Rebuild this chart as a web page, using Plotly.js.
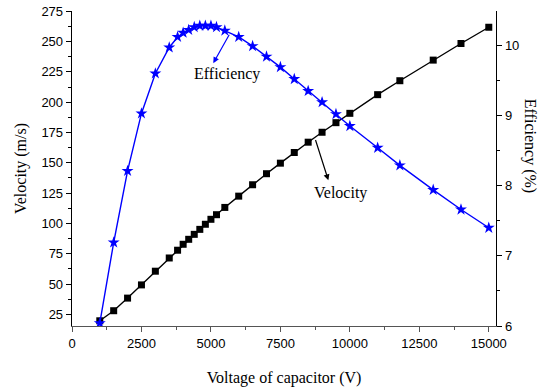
<!DOCTYPE html>
<html>
<head>
<meta charset="utf-8">
<script src="https://cdn.plot.ly/plotly-3.0.1.min.js"></script>
<style>
  html, body { margin: 0; padding: 0; background: #fff; }
  #chart { width: 549px; height: 391px; }
</style>
</head>
<body>
<div id="chart"></div>
<script>
// Capacitor voltage (V)
const voltage = [1000, 1500, 2000, 2500, 3000, 3500, 3800, 4000, 4200, 4400, 4600, 4800, 5000, 5200,
                 5500, 6000, 6500, 7000, 7500, 8000, 8500, 9000, 9500, 10000, 11000, 11800, 13000, 14000, 15000];
// Projectile velocity (m/s)
const velocity = [19.7, 28, 38.4, 49.3, 60.6, 71.5, 77.9, 82.8, 86.9, 91, 95.1, 99.3, 103.4, 107.2,
                  113.2, 122.5, 131.9, 141, 149.7, 158.5, 167, 175.2, 183.1, 190.8, 206.2, 217.7, 234.7, 248.4, 261.8];
// Launch efficiency (%)
const efficiency = [6.04, 7.19, 8.21, 9.03, 9.60, 9.97, 10.12, 10.18, 10.22, 10.26, 10.28, 10.28, 10.28, 10.26,
                    10.21, 10.12, 9.99, 9.84, 9.69, 9.52, 9.35, 9.19, 9.02, 8.85, 8.54, 8.29, 7.94, 7.66, 7.40];

const serif = 'Liberation Serif, Times New Roman, serif';
const sans = 'Liberation Sans, Arial, sans-serif';

const traces = [
  {
    x: voltage, y: velocity, name: 'Velocity', yaxis: 'y',
    mode: 'lines+markers',
    line: { color: '#000000', width: 1.4 },
    marker: { symbol: 'square', size: 7, color: '#000000' }
  },
  {
    x: voltage, y: efficiency, name: 'Efficiency', yaxis: 'y2',
    mode: 'lines+markers',
    line: { color: '#0000ff', width: 1.4 },
    marker: { symbol: 'star', size: 9, color: '#0000ff' }
  }
];

const layout = {
  width: 549, height: 391,
  margin: { l: 72, r: 53, t: 10.5, b: 65, pad: 0 },
  paper_bgcolor: '#ffffff', plot_bgcolor: '#ffffff',
  showlegend: false,
  font: { family: sans, size: 13, color: '#000' },
  xaxis: {
    range: [0, 15260], tick0: 0, dtick: 2500, tickformat: 'd',
    showgrid: false, zeroline: false,
    showline: true, linecolor: '#555555', linewidth: 1.3,
    ticks: 'outside', ticklen: 5, tickwidth: 1, tickcolor: '#555555',
    minor: { dtick: 1250, ticks: 'outside', ticklen: 3, tickcolor: '#555555' },
    tickfont: { family: sans, size: 13, color: '#000' },
    title: { text: 'Voltage of capacitor (V)', font: { family: serif, size: 16, color: '#000' }, standoff: 22 }
  },
  yaxis: {
    range: [15.4, 275.2], tick0: 0, dtick: 25,
    showgrid: false, zeroline: false,
    showline: true, linecolor: '#000000', linewidth: 1.3,
    ticks: 'outside', ticklen: 5, tickwidth: 1, tickcolor: '#000',
    minor: { dtick: 12.5, ticks: 'outside', ticklen: 3, tickcolor: '#000' },
    tickfont: { family: sans, size: 13, color: '#000' },
    title: { text: 'Velocity (m/s)', font: { family: serif, size: 16, color: '#000' }, standoff: 10 }
  },
  yaxis2: {
    overlaying: 'y', side: 'right',
    range: [6, 10.49], tick0: 6, dtick: 1,
    showgrid: false, zeroline: false,
    showline: true, linecolor: '#000000', linewidth: 1.3,
    ticks: 'outside', ticklen: 5, tickwidth: 1, tickcolor: '#000',
    minor: { dtick: 0.5, ticks: 'outside', ticklen: 3, tickcolor: '#000' },
    tickfont: { family: sans, size: 13, color: '#000' }
  },
  annotations: [
    // right-hand axis title, reading top to bottom
    {
      xref: 'paper', yref: 'paper', x: 1.081, y: 0.571,
      xanchor: 'center', yanchor: 'middle',
      text: 'Efficiency (%)', textangle: 90, showarrow: false,
      font: { family: serif, size: 16, color: '#000' }
    },
    // curve labels
    {
      xref: 'x', yref: 'y', x: 5580, y: 223.3, text: 'Efficiency', showarrow: false,
      font: { family: serif, size: 16, color: '#000' }
    },
    {
      xref: 'x', yref: 'y', x: 9647, y: 124.7, text: 'Velocity', showarrow: false,
      font: { family: serif, size: 16, color: '#000' }
    },
    // pointer arrows from each curve toward its label
    {
      xref: 'x', yref: 'y', axref: 'x', ayref: 'y',
      x: 5086, y: 232.2, ax: 5688, ay: 256.9, text: '',
      showarrow: true, arrowhead: 2, arrowsize: 1, arrowwidth: 1.2, arrowcolor: '#0000ff', standoff: 0
    },
    {
      xref: 'x', yref: 'y', axref: 'x', ayref: 'y',
      x: 9226, y: 135.6, ax: 8747, ay: 170.0, text: '',
      showarrow: true, arrowhead: 2, arrowsize: 1, arrowwidth: 1.2, arrowcolor: '#000000', standoff: 0
    }
  ]
};

Plotly.newPlot('chart', traces, layout, { displayModeBar: false, staticPlot: true });
</script>
</body>
</html>
